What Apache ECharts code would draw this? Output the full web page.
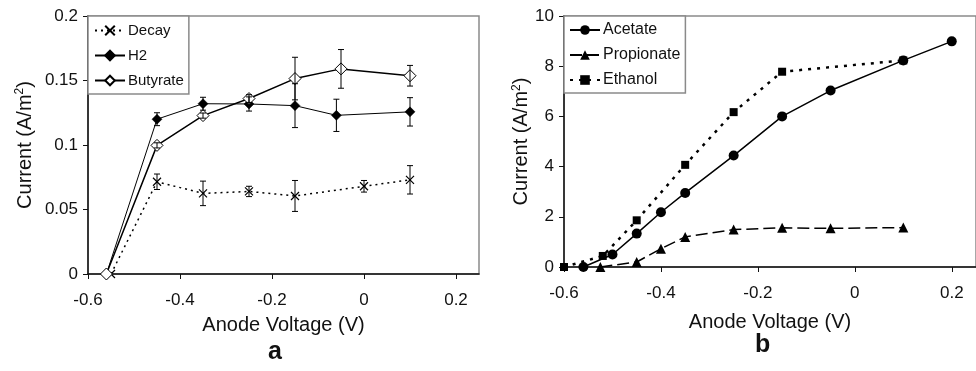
<!DOCTYPE html>
<html><head><meta charset="utf-8">
<script src="https://cdn.jsdelivr.net/npm/echarts@6/dist/echarts.min.js"></script>
<style>html,body{margin:0;padding:0;background:#fff}#c{width:976px;height:371px}</style>
</head><body><div id="c"></div>
<script>
// Panel a
const decayX = [-0.55, -0.45, -0.35, -0.25, -0.15, 0, 0.1];
const decayY = [0, 0.0715, 0.0625, 0.064, 0.0605, 0.068, 0.073];
const decayErr = [0, 0.006, 0.0095, 0.004, 0.012, 0.0045, 0.011];
const h2X = [-0.56, -0.45, -0.35, -0.25, -0.15, -0.06, 0.1];
const h2Y = [0, 0.120, 0.132, 0.1318, 0.1305, 0.123, 0.1257];
const h2Err = [0, 0.005, 0.005, 0.0055, 0.017, 0.0125, 0.011];
const butX = [-0.56, -0.45, -0.35, -0.25, -0.15, -0.05, 0.1];
const butY = [0, 0.0997, 0.1228, 0.136, 0.1515, 0.159, 0.1537];
const butErr = [0, 0.002, 0.002, 0.003, 0.0165, 0.015, 0.008];
// Panel b
const acetateX = [-0.56, -0.5, -0.45, -0.4, -0.35, -0.25, -0.15, -0.05, 0.1, 0.2];
const acetateY = [0, 0.5, 1.33, 2.18, 2.95, 4.44, 6.0, 7.03, 8.23, 8.99];
const propX = [-0.525, -0.45, -0.4, -0.35, -0.25, -0.15, -0.05, 0.1];
const propY = [0, 0.2, 0.73, 1.2, 1.49, 1.56, 1.54, 1.57];
const ethX = [-0.6, -0.52, -0.45, -0.35, -0.25, -0.15, 0.1];
const ethY = [0, 0.44, 1.86, 4.07, 6.17, 7.78, 8.23];
// Ticks
const xTicks = [-0.6, -0.4, -0.2, 0, 0.2];
const yTicksA = [0, 0.05, 0.1, 0.15, 0.2];
const yTicksB = [0, 2, 4, 6, 8, 10];
const xName = 'Anode Voltage (V)';
const legendA = ['Decay', 'H2', 'Butyrate'];
const legendB = ['Acetate', 'Propionate', 'Ethanol'];

const FONT = 'Liberation Sans, Arial, sans-serif';
const pairs = (xs, ys) => xs.map((x, i) => [x, ys[i]]);
const triples = (xs, ys, es) => xs.map((x, i) => [x, ys[i], es[i]]);
const X_MARK = 'path://M0,0L10,10M10,0L0,10';

function errRender(params, api) {
  const x = api.value(0), y = api.value(1), e = api.value(2);
  if (!e) return null;
  const t = api.coord([x, y + e]);
  const b = api.coord([x, y - e]);
  const w = 3;
  const st = {stroke: '#000', lineWidth: 1};
  return {type: 'group', children: [
    {type: 'line', shape: {x1: t[0], y1: t[1], x2: b[0], y2: b[1]}, style: st},
    {type: 'line', shape: {x1: t[0] - w, y1: t[1], x2: t[0] + w, y2: t[1]}, style: st},
    {type: 'line', shape: {x1: b[0] - w, y1: b[1], x2: b[0] + w, y2: b[1]}, style: st}
  ]};
}

function xAxisCfg(gi, min, max, gap) {
  return {
    type: 'value', gridIndex: gi, min: min, max: max, interval: 0.2,
    name: xName, nameLocation: 'middle', nameGap: gap,
    nameTextStyle: {fontFamily: FONT, fontSize: 20, color: '#111'},
    axisLine: {onZero: false, lineStyle: {color: '#111', width: 1.5}},
    axisTick: {show: true, length: 5, inside: false, customValues: xTicks, lineStyle: {color: '#111'}},
    axisLabel: {customValues: xTicks, fontFamily: FONT, fontSize: 17, color: '#111', margin: 18,
      formatter: v => String(Math.round(v * 10) / 10)},
    splitLine: {show: false}
  };
}
function yAxisCfg(gi, max, interval, ticks, gap) {
  return {
    type: 'value', gridIndex: gi, min: 0, max: max, interval: interval,
    name: '{n|Current (A/m}{s|2}{n|)}', nameLocation: 'middle', nameGap: gap,
    nameTextStyle: {rich: {
      n: {fontFamily: FONT, fontSize: 20, color: '#111'},
      s: {fontFamily: FONT, fontSize: 12, color: '#111', verticalAlign: 'top', padding: [0, 0, 10, 0]}
    }},
    axisLine: {show: true, onZero: false, lineStyle: {color: '#111', width: 1.5}},
    axisTick: {show: true, length: 5, inside: false, lineStyle: {color: '#111'}},
    axisLabel: {fontFamily: FONT, fontSize: 17, color: '#111', margin: 10},
    splitLine: {show: false}
  };
}

const chart = echarts.init(document.getElementById('c'), null, {renderer: 'canvas'});
chart.setOption({
  animation: false,
  backgroundColor: '#fff',
  grid: [
    {left: 88, top: 16, width: 391, height: 258, show: true, borderColor: '#8a8a8a', borderWidth: 1.5, backgroundColor: 'transparent'},
    {left: 564, top: 16, width: 418, height: 251, show: true, borderColor: '#8a8a8a', borderWidth: 1.5, backgroundColor: 'transparent'}
  ],
  xAxis: [xAxisCfg(0, -0.6, 0.25, 41), xAxisCfg(1, -0.6, 0.25, 45)],
  yAxis: [yAxisCfg(0, 0.2, 0.05, yTicksA, 52), yAxisCfg(1, 10, 2, yTicksB, 29)],
  legend: [
    {data: legendA, orient: 'vertical', left: 88, top: 16, itemWidth: 30, itemHeight: 12, itemGap: 10,
      padding: [7, 5, 6, 6], backgroundColor: '#fff', borderColor: '#8a8a8a', borderWidth: 1.5,
      textStyle: {fontFamily: FONT, fontSize: 15, color: '#111', padding: [0, 0, 0, -2]}},
    {data: legendB, orient: 'vertical', left: 564, top: 16, itemWidth: 30, itemHeight: 12, itemGap: 9,
      padding: [6, 5, 5, 5], backgroundColor: '#fff', borderColor: '#8a8a8a', borderWidth: 1.5,
      textStyle: {fontFamily: FONT, fontSize: 16, color: '#111', padding: [0, 0, 0, -2]}}
  ],
  graphic: [
    {type: 'text', left: 268, top: 340, style: {text: 'a', font: 'bold 25px ' + FONT, fill: '#111'}},
    {type: 'text', left: 755, top: 333, style: {text: 'b', font: 'bold 25px ' + FONT, fill: '#111'}}
  ],
  series: [
    {name: 'Decay', type: 'line', xAxisIndex: 0, yAxisIndex: 0, data: pairs(decayX, decayY),
      symbol: X_MARK, symbolSize: 8,
      itemStyle: {color: '#000', borderColor: '#000', borderWidth: 1.2},
      lineStyle: {color: '#000', width: 1.5, type: [2, 4]}, z: 3},
    {name: 'H2', type: 'line', xAxisIndex: 0, yAxisIndex: 0, data: pairs(h2X, h2Y),
      symbol: 'diamond', symbolSize: 10,
      itemStyle: {color: '#000', borderColor: '#000', borderWidth: 0.5},
      lineStyle: {color: '#000', width: 1}, z: 3},
    {name: 'Butyrate', type: 'line', xAxisIndex: 0, yAxisIndex: 0, data: pairs(butX, butY),
      symbol: 'diamond', symbolSize: 12,
      itemStyle: {color: '#fff', borderColor: '#000', borderWidth: 1},
      lineStyle: {color: '#000', width: 1.5}, z: 4},
    {type: 'custom', xAxisIndex: 0, yAxisIndex: 0, renderItem: errRender, data: triples(decayX, decayY, decayErr), z: 5, silent: true},
    {type: 'custom', xAxisIndex: 0, yAxisIndex: 0, renderItem: errRender, data: triples(h2X, h2Y, h2Err), z: 5, silent: true},
    {type: 'custom', xAxisIndex: 0, yAxisIndex: 0, renderItem: errRender, data: triples(butX, butY, butErr), z: 5, silent: true},

    {name: 'Acetate', type: 'line', xAxisIndex: 1, yAxisIndex: 1, data: pairs(acetateX, acetateY),
      symbol: 'circle', symbolSize: 10,
      itemStyle: {color: '#000'}, lineStyle: {color: '#000', width: 1.5}, z: 4},
    {name: 'Propionate', type: 'line', xAxisIndex: 1, yAxisIndex: 1, data: pairs(propX, propY),
      symbol: 'triangle', symbolSize: 10,
      itemStyle: {color: '#000'}, lineStyle: {color: '#000', width: 1.5, type: [12, 5]}, z: 3},
    {name: 'Ethanol', type: 'line', xAxisIndex: 1, yAxisIndex: 1, data: pairs(ethX, ethY),
      symbol: 'rect', symbolSize: 8,
      itemStyle: {color: '#000'}, lineStyle: {color: '#000', width: 2.5, type: [3, 6]}, z: 3}
  ]
});
</script>
</body></html>
